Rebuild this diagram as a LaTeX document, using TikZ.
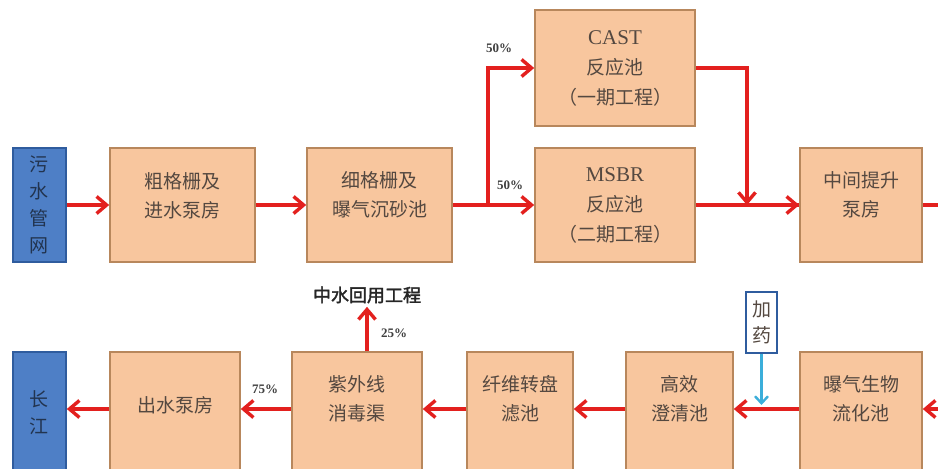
\documentclass[tikz,border=0pt]{standalone}
\usepackage{fontspec}
\setmainfont{Liberation Serif}
\newfontfamily\cjk{Noto Sans CJK SC}
\newfontfamily\cjkb[FakeBold=2]{Noto Sans CJK SC}
\usetikzlibrary{arrows.meta}
\definecolor{ofill}{HTML}{F8C69E}
\definecolor{obrd}{HTML}{B8875C}
\definecolor{bfill}{HTML}{4E7FC6}
\definecolor{bbrd}{HTML}{2F5C9E}
\definecolor{txt}{HTML}{544840}
\definecolor{btxt}{HTML}{22344F}
\definecolor{ared}{HTML}{E3201E}
\definecolor{ablue}{HTML}{3BAEDA}
\tikzset{
  obox/.style={draw=obrd, fill=ofill, line width=1.6pt},
  bbox/.style={draw=bbrd, fill=bfill, line width=1.6pt},
  btext/.style={font=\cjk\fontsize{19pt}{29pt}\selectfont, text=txt, align=center},
  vtext/.style={font=\cjk\fontsize{19pt}{27pt}\selectfont, text=btxt, align=center},
  flow/.style={draw=ared, line width=3.4pt, -{Straight Barb[length=10pt,width=17pt]}},
  flowline/.style={draw=ared, line width=3.4pt},
  pct/.style={font=\bfseries\fontsize{13pt}{15pt}\selectfont, text=black!75}
}
\begin{document}
\begin{tikzpicture}[x=1pt,y=-1pt]
\useasboundingbox (0,0) rectangle (938,469);
\fill[white] (0,0) rectangle (938,469);
\clip (0,0) rectangle (938,469);
% top row
\node[bbox, minimum width=53pt, minimum height=114pt] (sew) at (39.5,205) {};
\node[vtext] at (sew.center) {污\\水\\管\\网};
\node[obox, minimum width=145pt, minimum height=114pt,
  label={[btext,yshift=9pt]center:粗格栅及\\进水泵房}] (cg) at (182.5,205) {};
\node[obox, minimum width=145pt, minimum height=114pt,
  label={[btext,yshift=10pt]center:细格栅及\\曝气沉砂池}] (xg) at (379.5,205) {};
\node[obox, minimum width=160pt, minimum height=116pt,
  label={[btext,font=\cjk\fontsize{19pt}{30pt}\selectfont]center:{\rmfamily\fontsize{21pt}{30pt}\selectfont CAST}\\反应池\\（一期工程）}] (cast) at (615,68) {};
\node[obox, minimum width=160pt, minimum height=114pt,
  label={[btext,font=\cjk\fontsize{19pt}{30pt}\selectfont]center:{\rmfamily\fontsize{21pt}{30pt}\selectfont MSBR}\\反应池\\（二期工程）}] (msbr) at (615,205) {};
\node[obox, minimum width=122pt, minimum height=114pt,
  label={[btext,yshift=10pt]center:中间提升\\泵房}] (zj) at (861,205) {};
% bottom row
\node[bbox, minimum width=53pt, minimum height=118pt] (cj) at (39.5,411) {};
\node[vtext] at (39.5,413) {长\\江};
\node[obox, minimum width=130pt, minimum height=118pt,
  label={[btext,yshift=6pt]center:出水泵房}] (cs) at (175,411) {};
\node[obox, minimum width=130pt, minimum height=118pt,
  label={[btext,yshift=12pt]center:紫外线\\消毒渠}] (zw) at (357,411) {};
\node[obox, minimum width=106pt, minimum height=118pt,
  label={[btext,yshift=12pt]center:纤维转盘\\滤池}] (xw) at (520,411) {};
\node[obox, minimum width=107pt, minimum height=118pt,
  label={[btext,yshift=12pt]center:高效\\澄清池}] (gx) at (679.5,411) {};
\node[obox, minimum width=122pt, minimum height=118pt,
  label={[btext,yshift=12pt]center:曝气生物\\流化池}] (bq) at (861,411) {};
\node[draw=bbrd, fill=white, line width=1.5pt, minimum width=31pt, minimum height=61pt, inner sep=0pt,
  font=\cjk\fontsize{19pt}{26pt}\selectfont, text=txt, align=center] (jy) at (761.5,322.5) {加\\药};
\node[font=\cjkb\fontsize{18pt}{20pt}\selectfont, text=black!85] (zs) at (367,295) {中水回用工程};
% coordinates
\coordinate (split) at (488,205);
\coordinate (join) at (747,68);
\coordinate (rout) at (945,205);
\coordinate (rin) at (945,409);
% connectors top
\draw[flow] (sew.east) -- (cg.west);
\draw[flow] (cg.west -| cg.east) -- (xg.west);
\draw[flowline] (xg.east) -- (split);
\draw[flow] (split) -- (msbr.west);
\draw[flow] ([yshift=1.7pt]split) |- (cast.west);
\draw[flowline] (cast.east) -- ([xshift=1.7pt]join);
\draw[flow] (join) -- (join |- msbr.east);
\draw[flowline] (msbr.east) -- (zj.west);
\draw[flow] (747,205) -- (zj.west);
\draw[flowline] (zj.east) -- (rout);
% connectors bottom
\draw[flow] (rin) -- (rin -| bq.east);
\draw[flow] (bq.west |- 0,409) -- (gx.east |- 0,409);
\draw[draw=ablue, line width=2.4pt, -{Straight Barb[length=7pt,width=13pt]}] (jy.south) -- (761.5,405);
\draw[flow] (gx.west |- 0,409) -- (xw.east |- 0,409);
\draw[flow] (xw.west |- 0,409) -- (zw.east |- 0,409);
\draw[flow] (zw.west |- 0,409) -- (cs.east |- 0,409);
\draw[flow] (cs.west |- 0,409) -- (cj.east |- 0,409);
\draw[flow] (zw.north -| zs.south) -- (zs.south);
% percentages
\node[pct] at (499,48) {50\%};
\node[pct] at (510,185) {50\%};
\node[pct] at (265,389) {75\%};
\node[pct] at (394,333) {25\%};
\end{tikzpicture}
\end{document}
